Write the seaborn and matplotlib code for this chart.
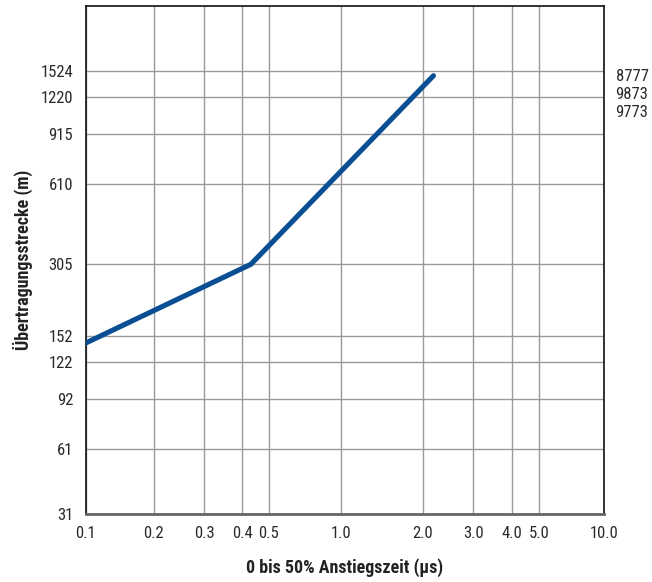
import numpy as np
import pandas as pd
import matplotlib
matplotlib.use("Agg")
import matplotlib.pyplot as plt
from matplotlib import font_manager as fm
import seaborn as sns

# values
rise_time = [0.1, 0.43, 2.18]
distance = [143, 305, 1460]

x_ticks = [0.1, 0.2, 0.3, 0.4, 0.5, 1.0, 2.0, 3.0, 4.0, 5.0, 10.0]
x_labels = ["0.1", "0.2", "0.3", "0.4", "0.5", "1.0", "2.0", "3.0", "4.0", "5.0", "10.0"]
y_ticks = [31, 61, 92, 122, 152, 305, 610, 915, 1220, 1524]
y_top = 3048
cables = ["8777", "9873", "9773"]

# the printed grid is hand spaced, not a true log grid:
# offset of each gridline from the axis origin (pixels)
x_grid_off = [0, 68.2, 118.8, 156.8, 183.2, 255.2, 337.2, 387.8, 426.2, 453.2, 518.2]
y_grid_off = [0, 64.7, 114.7, 152.3, 178, 249.7, 329.7, 379.7, 417.3, 443.3, 508.5]


def grid_scale(vals, offs):
    lv = np.log10(np.asarray(vals, float))
    po = np.asarray(offs, float)
    s0 = (po[1] - po[0]) / (lv[1] - lv[0])
    s1 = (po[-1] - po[-2]) / (lv[-1] - lv[-2])

    def fwd(v):
        l = np.log10(np.clip(np.asarray(v, float), 1e-12, None))
        out = np.interp(l, lv, po)
        out = np.where(l < lv[0], po[0] + (l - lv[0]) * s0, out)
        out = np.where(l > lv[-1], po[-1] + (l - lv[-1]) * s1, out)
        return out

    def inv(p):
        p = np.asarray(p, float)
        l = np.interp(p, po, lv)
        l = np.where(p < po[0], lv[0] + (p - po[0]) / s0, l)
        l = np.where(p > po[-1], lv[-1] + (p - po[-1]) / s1, l)
        return 10 ** l

    return fwd, inv


def pick_font(prefs):
    # first condensed family that has both a regular and a bold face
    faces = {}
    for f in fm.fontManager.ttflist:
        w = f.weight if isinstance(f.weight, int) else 400
        faces.setdefault(f.name, set()).add(w)
    for name in prefs:
        ws = faces.get(name, set())
        if any(w <= 500 for w in ws) and any(w >= 600 for w in ws):
            return name
    return "DejaVu Sans"


font = pick_font(["Roboto Condensed", "Liberation Sans Narrow", "PT Sans Narrow",
                  "Archivo Narrow", "Asap Condensed", "Barlow Condensed",
                  "Sofia Sans Condensed", "Roboto"])

sns.set_theme(style="white")
plt.rcParams["font.family"] = [font, "DejaVu Sans"]

df = pd.DataFrame({"t": rise_time, "d": distance})

fig = plt.figure(figsize=(6.52, 5.82), dpi=100)
ax = fig.add_axes([85.5 / 652, 1 - 514 / 582, 518.2 / 652, 508.5 / 582])

ax.set_xscale("function", functions=grid_scale(x_ticks, x_grid_off))
ax.set_yscale("function", functions=grid_scale(y_ticks + [y_top], y_grid_off))
ax.set_xlim(x_ticks[0], x_ticks[-1])
ax.set_ylim(y_ticks[0], y_top)

sns.lineplot(data=df, x="t", y="d", ax=ax, color="#0a4f94", linewidth=3.7,
             solid_capstyle="round", solid_joinstyle="round", zorder=3)

ax.set_xticks(x_ticks)
ax.set_xticklabels(x_labels)
ax.set_yticks(y_ticks)
ax.set_yticklabels([str(v) for v in y_ticks])
ax.minorticks_off()
ax.tick_params(axis="both", length=0, labelsize=12, colors="#2a2a2a")
ax.tick_params(axis="x", pad=9)
ax.tick_params(axis="y", pad=9)
ax.grid(True, color="#9a9a9a", linewidth=1.0)

for side in ["top", "right", "left"]:
    ax.spines[side].set_color("#111111")
    ax.spines[side].set_linewidth(1.2)
ax.spines["bottom"].set_color("#666666")
ax.spines["bottom"].set_linewidth(2.0)

ax.set_xlabel("0 bis 50% Anstiegszeit (µs)", fontsize=13, fontweight="bold",
              color="#222222", labelpad=12)
ax.set_ylabel("Übertragungsstrecke (m)", fontsize=13, fontweight="bold",
              color="#222222", labelpad=5.5)

for i, name in enumerate(cables):
    ax.text(1.023, 0.861 - i * 0.0355, name, transform=ax.transAxes,
            ha="left", va="center", fontsize=12, color="#2a2a2a")

fig.savefig("out.png", dpi=100)
